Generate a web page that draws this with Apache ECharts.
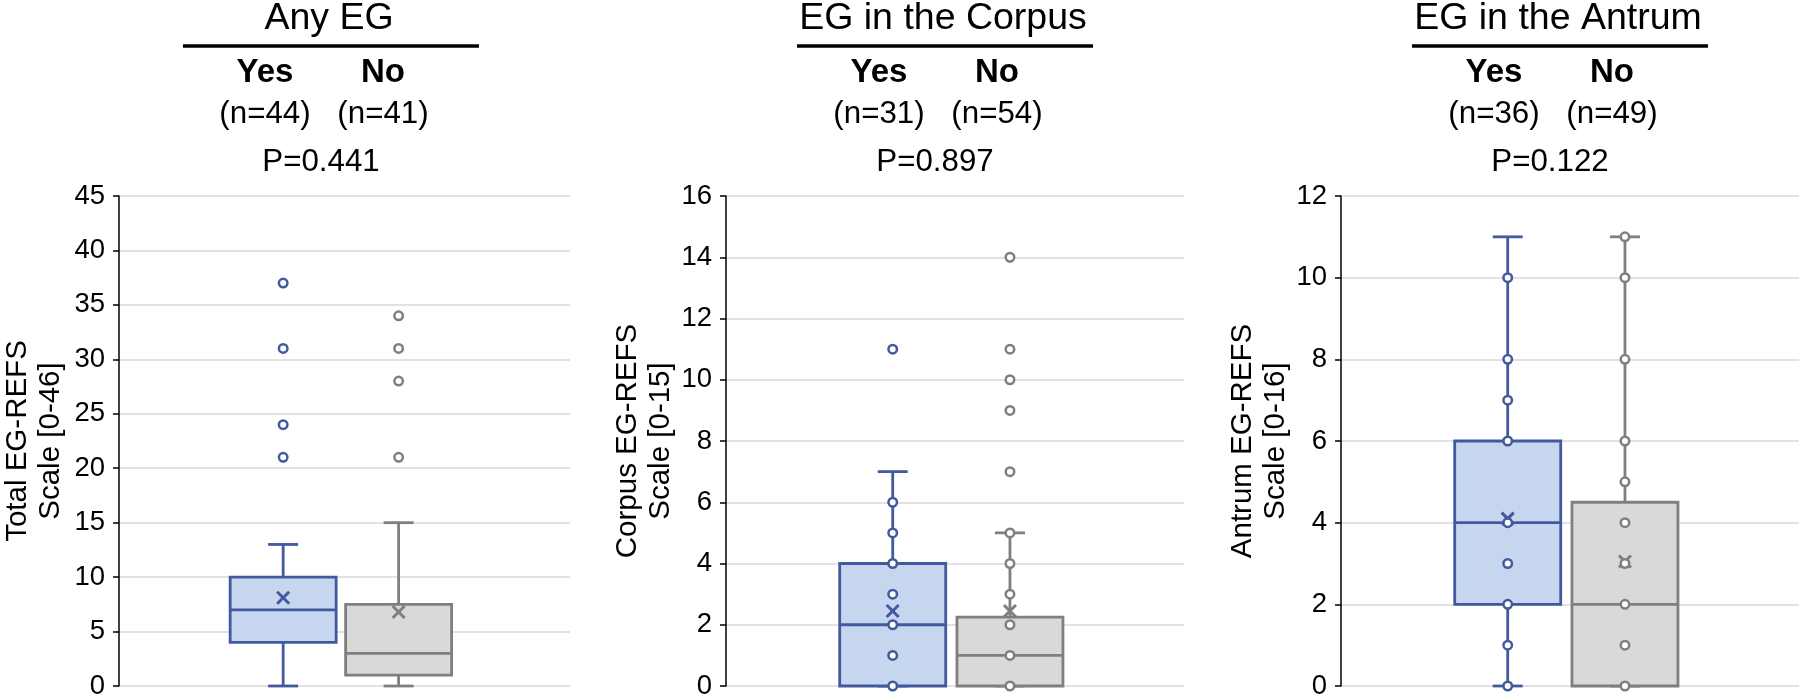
<!DOCTYPE html>
<html><head><meta charset="utf-8">
<script src="https://cdn.jsdelivr.net/npm/echarts@6/dist/echarts.min.js"></script>
<style>html,body{margin:0;padding:0;background:#fff}#c{width:1800px;height:700px}</style>
</head><body><div id="c"></div>
<script>
// ---------- data ----------
const panelTitles = ['Any EG', 'EG in the Corpus', 'EG in the Antrum'];
const groupNames = ['Yes', 'No'];
const nYes = [44, 31, 36];
const nNo = [41, 54, 49];
const pValues = ['0.441', '0.897', '0.122'];
const yAxisNames = ['Total EG-REFS\nScale [0-46]', 'Corpus EG-REFS\nScale [0-15]', 'Antrum EG-REFS\nScale [0-16]'];
const yMax = [45, 16, 12];
const yStep = [5, 2, 2];
// [min, Q1, median, Q3, max]
const statsYes = [[0, 4, 7, 10, 13], [0, 0, 2, 4, 7], [0, 2, 4, 6, 11]];
const statsNo = [[0, 1, 3, 7.5, 15], [0, 0, 1, 2.25, 5], [0, 0, 2, 4.5, 11]];
const meanYes = [8.1, 2.45, 4.1];
const meanNo = [6.8, 2.45, 3.05];
const pointsYes = [[21, 24, 31, 37], [0, 1, 2, 3, 4, 5, 6, 11], [0, 1, 2, 3, 4, 6, 7, 8, 10]];
const pointsNo = [[21, 28, 31, 34], [0, 1, 2, 3, 4, 5, 7, 9, 10, 11, 14], [0, 1, 2, 3, 4, 5, 6, 8, 10, 11]];

// ---------- layout & style ----------
const PANEL_LEFT = [112, 726, 1341];
const PLOT_W = 458, PLOT_TOP = 196, PLOT_H = 492;
const GROUP_POS = [0.364, 0.620];
const BOX_W = 106, CAP_W = 30, LW = 2.8;
const FONT = '"Liberation Sans", Arial, Helvetica, sans-serif';
const STROKE = ['#4259A0', '#7F7F7F'];
const FILL = ['#C6D6EE', '#D9D9D9'];

const chart = echarts.init(document.getElementById('c'), null, {renderer: 'canvas'});

function renderBox(params, api) {
  const x = api.value(0);
  const g = api.value(7);
  const pMin = api.coord([x, api.value(1)]);
  const pQ1 = api.coord([x, api.value(2)]);
  const pMed = api.coord([x, api.value(3)]);
  const pQ3 = api.coord([x, api.value(4)]);
  const pMax = api.coord([x, api.value(5)]);
  const pMean = api.coord([x, api.value(6)]);
  const cx = pMin[0];
  const s = STROKE[g], f = FILL[g];
  const ls = {stroke: s, lineWidth: LW};
  const h = 6;
  return {type: 'group', children: [
    {type: 'line', shape: {x1: cx, y1: pQ3[1], x2: cx, y2: pMax[1]}, style: ls},
    {type: 'line', shape: {x1: cx, y1: pQ1[1], x2: cx, y2: pMin[1]}, style: ls},
    {type: 'line', shape: {x1: cx - CAP_W / 2, y1: pMax[1], x2: cx + CAP_W / 2, y2: pMax[1]}, style: ls},
    {type: 'line', shape: {x1: cx - CAP_W / 2, y1: pMin[1], x2: cx + CAP_W / 2, y2: pMin[1]}, style: ls},
    {type: 'rect', shape: {x: cx - BOX_W / 2, y: pQ3[1], width: BOX_W, height: pQ1[1] - pQ3[1]}, style: {fill: f, stroke: s, lineWidth: LW}},
    {type: 'line', shape: {x1: cx - BOX_W / 2, y1: pMed[1], x2: cx + BOX_W / 2, y2: pMed[1]}, style: ls},
    {type: 'line', shape: {x1: cx - h, y1: pMean[1] - h, x2: cx + h, y2: pMean[1] + h}, style: {stroke: s, lineWidth: 3}},
    {type: 'line', shape: {x1: cx - h, y1: pMean[1] + h, x2: cx + h, y2: pMean[1] - h}, style: {stroke: s, lineWidth: 3}}
  ]};
}

const grids = [], xAxes = [], yAxes = [], series = [], graphics = [];
for (let i = 0; i < 3; i++) {
  const L = PANEL_LEFT[i];
  grids.push({left: L, top: PLOT_TOP, width: PLOT_W, height: PLOT_H, containLabel: false});
  xAxes.push({type: 'value', gridIndex: i, min: 0, max: 1, show: false});
  yAxes.push({
    type: 'value', gridIndex: i, min: 0, max: yMax[i], interval: yStep[i],
    name: yAxisNames[i], nameLocation: 'middle', nameRotate: 90, nameGap: i === 0 ? 52 : 48,
    nameTextStyle: {fontFamily: FONT, fontSize: 29.5, lineHeight: 33, color: '#000'},
    axisLine: {show: true, lineStyle: {color: '#000', width: 1.5}},
    axisTick: {show: true, inside: false, length: 6, lineStyle: {color: '#000', width: 1.5}},
    axisLabel: {fontFamily: FONT, fontSize: 27.5, color: '#000', margin: 14},
    splitLine: {show: true, lineStyle: {color: '#D9D9D9', width: 1.5}}
  });
  const boxData = [
    [GROUP_POS[0], ...statsYes[i], meanYes[i], 0],
    [GROUP_POS[1], ...statsNo[i], meanNo[i], 1]
  ];
  series.push({
    type: 'custom', xAxisIndex: i, yAxisIndex: i, renderItem: renderBox,
    encode: {x: 0, y: [1, 2, 3, 4, 5, 6]}, data: boxData, clip: false, z: 2
  });
  [pointsYes[i], pointsNo[i]].forEach((pts, g) => {
    series.push({
      type: 'scatter', xAxisIndex: i, yAxisIndex: i, z: 3,
      symbol: 'circle', symbolSize: 8.5,
      itemStyle: {color: '#fff', borderColor: STROKE[g], borderWidth: 2.5, opacity: 1},
      data: pts.map(v => [GROUP_POS[g], v])
    });
  });
  const txt = (x, y, text, size, weight) => ({
    type: 'text', x: x, y: y, silent: true,
    style: {text: text, fontFamily: FONT, fontSize: size, fontWeight: weight || 'normal', fill: '#000', align: 'center', verticalAlign: 'middle'}
  });
  graphics.push(txt(L + 217, 19, panelTitles[i], 37.5));
  graphics.push({type: 'line', silent: true, shape: {x1: L + 71, y1: 46, x2: L + 367, y2: 46}, style: {stroke: '#000', lineWidth: 3.5}});
  graphics.push(txt(L + 153, 73, groupNames[0], 33, 'bold'));
  graphics.push(txt(L + 271, 73, groupNames[1], 33, 'bold'));
  graphics.push(txt(L + 153, 114, '(n=' + nYes[i] + ')', 31.3));
  graphics.push(txt(L + 271, 114, '(n=' + nNo[i] + ')', 31.3));
  graphics.push(txt(L + 209, 162, 'P=' + pValues[i], 31.3));
}

chart.setOption({
  animation: false,
  backgroundColor: '#fff',
  grid: grids, xAxis: xAxes, yAxis: yAxes, series: series, graphic: graphics
});
</script></body></html>
